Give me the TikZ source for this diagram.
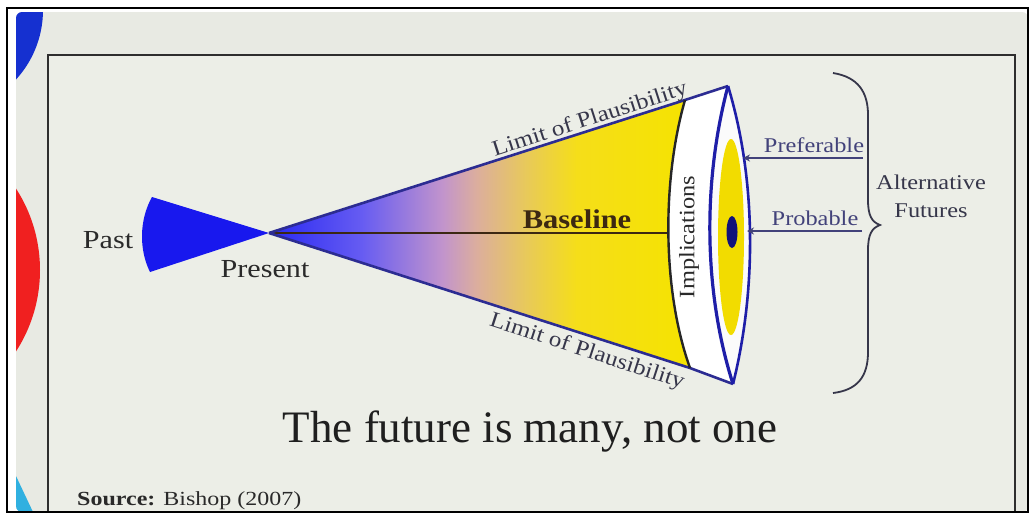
\documentclass[tikz,border=0pt]{standalone}
\usepackage{fontspec}
\setmainfont{Liberation Serif}
\usetikzlibrary{arrows.meta}
\definecolor{slidebg}{HTML}{E8EAE3}
\definecolor{framebg}{HTML}{ECEEE7}
\definecolor{framecol}{HTML}{2E2E2E}
\definecolor{pastblue}{HTML}{1818EE}
\definecolor{edgeblue}{HTML}{2C2C92}
\definecolor{lensblue}{HTML}{1E1EA8}
\definecolor{dotblue}{HTML}{12127A}
\definecolor{futyellow}{HTML}{F2DC00}
\definecolor{txtgray}{HTML}{2A2A2A}
\definecolor{txtbrown}{HTML}{3C2812}
\definecolor{txtslate}{HTML}{36364A}
\definecolor{txtblue}{HTML}{42427A}
\definecolor{decoblue}{HTML}{1530D0}
\definecolor{decored}{HTML}{F02020}
\definecolor{decocyan}{HTML}{30B0E0}
\pgfdeclarehorizontalshading{fanshade}{100bp}{rgb(0bp)=(0.16,0.16,0.95); rgb(25bp)=(0.16,0.16,0.95); rgb(36bp)=(0.40,0.36,0.95); rgb(45.6bp)=(0.76,0.58,0.80); rgb(49.6bp)=(0.86,0.68,0.62); rgb(55.6bp)=(0.91,0.79,0.35); rgb(61.5bp)=(0.96,0.87,0.1); rgb(75bp)=(0.96,0.89,0); rgb(100bp)=(0.96,0.89,0)}
\newcommand{\sx}[1]{\scalebox{1.16}[1]{#1}}
\begin{document}
\begin{tikzpicture}[x=1pt,y=-1pt,
  big/.style={font=\fontsize{26}{30}\selectfont, text=txtgray, inner sep=0pt},
  small/.style={font=\fontsize{21}{24}\selectfont, inner sep=0pt},
  limit/.style={font=\fontsize{22}{24}\selectfont, text=txtslate, inner sep=0pt},
  fanedge/.style={draw=edgeblue, line width=2.6pt, line join=round},
  pointer/.style={draw=txtblue, line width=1.8pt, -{Stealth[length=7pt,width=7pt]}},
  bracecol/.style={draw=txtslate, line width=1.8pt}]
\useasboundingbox (0,0) rectangle (1035,520);
\fill[white] (0,0) rectangle (1035,520);
% slide background
\fill[slidebg, rounded corners=6pt] (16,12) rectangle (1028,512);
\begin{scope}
  \clip[rounded corners=6pt] (16,12) rectangle (1028,512);
  \fill[decoblue] (-60,10) circle[radius=103];
  \fill[decored] (-110,270) circle[radius=150];
  \fill[decocyan] (16,476) -- (33,512) -- (16,512) -- cycle;
\end{scope}
% inner frame
\fill[framebg] (48,55) rectangle (1015,512);
\draw[framecol, line width=2.4pt] (48,512) -- (48,55) -- (1015,55) -- (1015,512);
% outer border
\draw[black, line width=1.5pt] (7,8) rectangle (1028,512);

% key points
\coordinate (P) at (269,233);
\coordinate (T) at (728,86);
\coordinate (B) at (733,384);
\coordinate (IT) at (685,100);
\coordinate (IB) at (690,368);
\coordinate (IM) at (667,233);

% past wedge
\fill[pastblue] (152,197) .. controls (139,220) and (139,250) .. (150,272) -- (P) -- cycle;

% fan
\shade[shading=fanshade] (P) -- (IT) .. controls (662,180) and (662,290) .. (IB) -- cycle;
\draw[txtbrown, line width=2.4pt] (P) -- (IM);

% implications band
\fill[white] (IT) -- (T) .. controls (703,180) and (703,290) .. (B) -- (IB) .. controls (662,290) and (662,180) .. (IT) -- cycle;
% lens
\fill[white!97!gray] (T) .. controls (703,180) and (703,290) .. (B) .. controls (756.5,290) and (756.5,180) .. (T) -- cycle;
\fill[futyellow] (731,237) ellipse[x radius=13, y radius=98];
\fill[dotblue] (732,232) ellipse[x radius=5.5, y radius=16];

% outlines
\draw[fanedge] (P) -- (IT) -- (T);
\draw[fanedge] (P) -- (IB) -- (B);
\draw[black!85, line width=2.4pt] (IT) .. controls (662,180) and (662,290) .. (IB);
\draw[lensblue, line width=3.2pt] (T) .. controls (703,180) and (703,290) .. (B);
\draw[lensblue, line width=2.6pt] (T) .. controls (756.5,180) and (756.5,290) .. (B);

% labels
\node[big, anchor=base] (past) at (108,248) {\sx{Past}};
\node[big, anchor=base] (present) at (265,277) {\sx{Present}};
\node[font=\fontsize{27}{30}\selectfont\bfseries, text=txtbrown, inner sep=0pt, anchor=base] (baseline) at (577,228) {\scalebox{1.13}[1]{Baseline}};
\node[limit, rotate=17.8] (limtop) at (590,120) {\scalebox{1.14}[1]{Limit of Plausibility}};
\node[limit, rotate=-18] (limbot) at (587,352) {\scalebox{1.14}[1]{Limit of Plausibility}};
\node[limit, text=txtgray, rotate=90] (impl) at (689,237) {\scalebox{1.11}[1]{Implications}};

% pointers
\node[small, text=txtblue, anchor=base] (pref) at (814,152) {\sx{Preferable}};
\node[small, text=txtblue, anchor=base] (prob) at (815,225) {\sx{Probable}};
\coordinate (prefEnd) at (863,158);
\coordinate (prefTip) at (743,158);
\coordinate (probEnd) at (862,231);
\coordinate (probTip) at (747,231);
\draw[pointer] (prefEnd) -- (prefTip);
\draw[pointer] (probEnd) -- (probTip);

% brace
\coordinate (braceTop) at (833,73);
\coordinate (braceTip) at (880,225);
\coordinate (braceBot) at (833,393);
\draw[bracecol] (braceTop) .. controls (858,77) and (868,92) .. (868,115) -- (868,200)
  .. controls (868,216) and (872,222) .. (braceTip)
  .. controls (872,228) and (868,234) .. (868,250) -- (868,352)
  .. controls (868,376) and (858,390) .. (braceBot);
\node[small, text=txtslate, align=center, anchor=base] (alt) at (931,217) {\sx{Alternative}\\[4pt]\sx{Futures}};

% caption and source
\node[font=\fontsize{45}{50}\selectfont, text=black!88, inner sep=0pt, anchor=base] (caption) at (530,442) {The future is many, not one};
\node[font=\fontsize{20}{22}\selectfont, text=txtgray, inner sep=0pt, anchor=base west] (source) at (77,505) {\scalebox{1.2}[1]{\textbf{Source:} Bishop (2007)}};
\end{tikzpicture}
\end{document}
